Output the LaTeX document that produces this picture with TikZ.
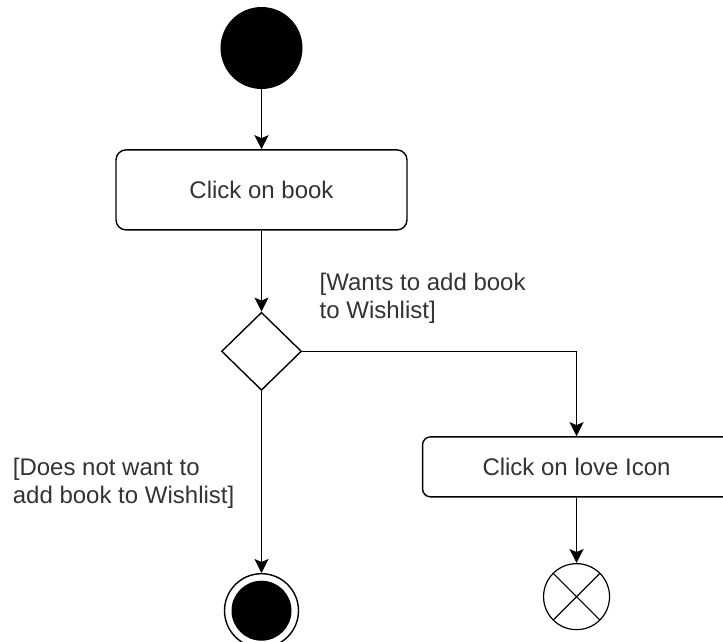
\documentclass[tikz,border=0pt]{standalone}
\usepackage{fontspec}
\setmainfont{Liberation Sans}
\usetikzlibrary{positioning,arrows.meta,shapes.geometric}

\begin{document}
\begin{tikzpicture}[
      x=1pt, y=-1pt,
      font=\fontsize{24}{28}\selectfont,
      box/.style={draw, line width=1.4pt, rounded corners=10pt, align=center, text=black!80},
      initial/.style={circle, fill=black, minimum size=82pt},
      decision/.style={diamond, draw, line width=1.4pt, minimum width=80pt, minimum height=78pt, inner sep=0pt},
      final/.style={circle, draw, line width=1.4pt, minimum size=74pt,
        path picture={\fill (path picture bounding box.center) circle (30pt);}},
      flowfinal/.style={circle, draw, line width=1.2pt, minimum size=66pt,
        path picture={\draw[line width=1.2pt] (path picture bounding box.north west) -- (path picture bounding box.south east)
          (path picture bounding box.north east) -- (path picture bounding box.south west);}},
      guard/.style={align=left, inner sep=0pt, text=black!80},
      line/.style={-{Stealth[length=14pt, width=14pt, inset=3pt]}, line width=1.4pt}
    ]
    \clip (0,0) rectangle (723,642);
    \node[initial] (start) at (261.5,48) {};
    \node[box, minimum width=291pt, minimum height=80pt, below=60pt of start] (book) {Click on book};
    \node[decision, below=81pt of book] (dec) {};
    \node[box, rounded corners=8pt, minimum width=308pt, minimum height=60pt, below right=65pt and 140pt of dec] (love) {Click on love Icon};
    \node[flowfinal, below=65.5pt of love] (cancel) {};
    \node[final, below=182pt of dec] (stop) {};
    \node[guard, above right=28pt and 58pt of dec.center] (wants) {[Wants to add book\\to Wishlist]};
    \node[guard, below left=67pt and 27pt of dec.south] (nowant) {[Does not want to\\add book to Wishlist]};

    \draw[line] (start) -- (book);
    \draw[line] (book) -- (dec);
    \draw[line] (dec.east) -| (love.north);
    \draw[line] (love) -- (cancel);
    \draw[line] (dec) -- (stop);
  \end{tikzpicture}
\end{document}
